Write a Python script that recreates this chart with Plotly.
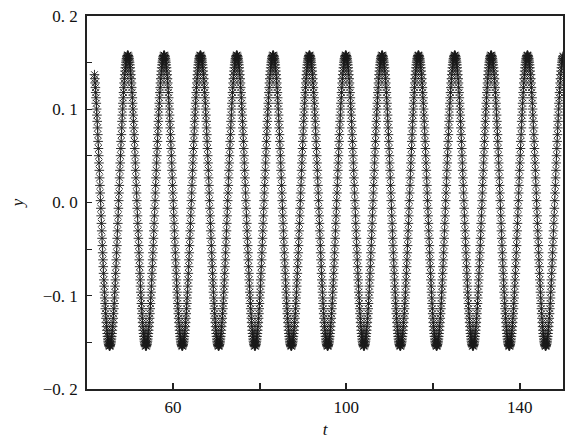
import numpy as np
import plotly.graph_objects as go

# One oscillation cycle (trough -> peak -> trough),
# every cycle in the picture has the same shape and height.
y_cycle = [
    -0.1540, -0.1538, -0.1531, -0.1521, -0.1506, -0.1487, -0.1464, -0.1436, -0.1405, -0.1370,
    -0.1331, -0.1288, -0.1242, -0.1192, -0.1139, -0.1083, -0.1024, -0.0962, -0.0897, -0.0830,
    -0.0760, -0.0688, -0.0615, -0.0539, -0.0462, -0.0384, -0.0304, -0.0224, -0.0143, -0.0062,
    0.0020, 0.0102, 0.0183, 0.0264, 0.0345, 0.0424, 0.0502, 0.0579, 0.0655, 0.0728,
    0.0800, 0.0870, 0.0937, 0.1002, 0.1064, 0.1123, 0.1179, 0.1232, 0.1282, 0.1328,
    0.1371, 0.1410, 0.1445, 0.1476, 0.1504, 0.1527, 0.1545, 0.1561, 0.1571, 0.1578,
    0.1580,
    0.1578, 0.1571, 0.1561, 0.1545, 0.1527, 0.1504, 0.1476, 0.1445, 0.1410, 0.1371,
    0.1328, 0.1282, 0.1232, 0.1179, 0.1123, 0.1064, 0.1002, 0.0937, 0.0870, 0.0800,
    0.0728, 0.0655, 0.0579, 0.0502, 0.0424, 0.0345, 0.0264, 0.0183, 0.0102, 0.0020,
    -0.0062, -0.0143, -0.0224, -0.0304, -0.0384, -0.0462, -0.0539, -0.0615, -0.0688, -0.0760,
    -0.0830, -0.0897, -0.0962, -0.1024, -0.1083, -0.1139, -0.1192, -0.1242, -0.1288, -0.1331,
    -0.1370, -0.1405, -0.1436, -0.1464, -0.1487, -0.1506, -0.1521, -0.1531, -0.1538,
]

# Time sampling
first_trough_t = 45.37      # first trough time
period = 8.385              # distance between successive peaks
start_phase_index = 70      # first sample lies just after the peak before the first trough
t_end = 150.0

x_tickvals = [60, 80, 100, 120, 140]
x_ticktext = ["60", "", "100", "", "140"]
y_tickvals = [-0.2, -0.1, 0.0, 0.1, 0.2]
y_ticktext = ["\u22120. 2", "\u22120. 1", "0. 0", "0. 1", "0. 2"]

n_per = len(y_cycle)
dt = period / n_per
y_all = np.tile(np.array(y_cycle), 16)[start_phase_index:]
t_all = (first_trough_t - period) + dt * (start_phase_index + np.arange(len(y_all)))
keep = t_all <= t_end + 0.05
t_all = t_all[keep]
y_all = y_all[keep]

fig = go.Figure()
fig.add_trace(go.Scatter(
    x=t_all, y=y_all, mode="markers",
    marker=dict(symbol="asterisk-open", size=8, color="#1a1a1a",
                line=dict(width=0.9, color="#1a1a1a")),
    showlegend=False, cliponaxis=True,
))

serif = "Liberation Serif"
tfont = dict(family=serif, size=17, color="#111111")

# the page body adds an 8 px offset, so the figure is 8 px smaller
fig.update_layout(
    width=565, height=433,
    margin=dict(l=79, r=10, t=8, b=52),
    paper_bgcolor="white", plot_bgcolor="white",
    font=tfont,
)
fig.update_xaxes(
    range=[40.15, 150.0], showgrid=False, zeroline=False, automargin=False,
    showline=True, linecolor="#222222", linewidth=1.5, mirror=True,
    ticks="inside", ticklen=6, tickwidth=1.5, tickcolor="#222222",
    tickvals=x_tickvals, ticktext=x_ticktext, ticklabelstandoff=2,
    ticklabeloverflow="allow",
    tickfont=tfont,
    title=dict(text="<i>t</i>", standoff=7, font=tfont),
)
fig.update_yaxes(
    range=[-0.2, 0.2], showgrid=False, zeroline=False, automargin=False,
    showline=True, linecolor="#222222", linewidth=1.5, mirror=True,
    ticks="inside", ticklen=5, tickwidth=1.2, tickcolor="#222222",
    tickvals=y_tickvals, ticktext=y_ticktext, ticklabelstandoff=4,
    ticklabeloverflow="allow",
    tickfont=tfont,
    minor=dict(ticks="inside", ticklen=5, tickwidth=1.2, tickcolor="#222222",
               tickvals=[-0.15, -0.05, 0.05, 0.15]),
    title=dict(text="<i>y</i>", standoff=16, font=tfont),
)

fig.write_html("out.html")
